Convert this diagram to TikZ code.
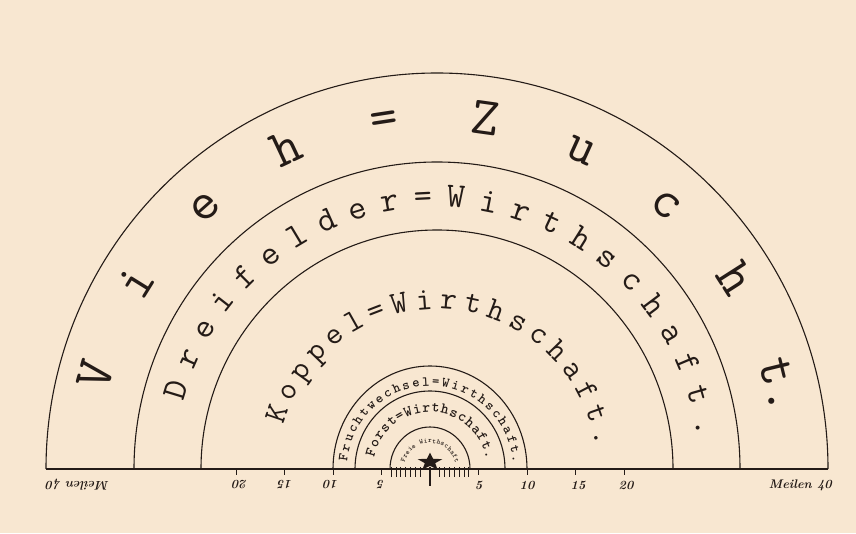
\documentclass[tikz,border=0pt]{standalone}
\usepackage{fontspec}
\usepackage{tikz}
\usetikzlibrary{
  decorations.text,shapes.geometric,positioning,calc
}
\newcommand\ringfont{\ttfamily}
\definecolor{paper}{RGB}{248,231,209}
\definecolor{ink}{RGB}{36,27,23}

\tikzset{
  ring/.style={ink,line width=1.1pt},
  ringtext/.style={decorate,decoration={text along path,text align=fit to path,text color=ink}},
  milelabel/.style={ink,inner sep=0pt,font=\bfseries\itshape\fontsize{12.5}{12.5}\selectfont},
  miletick/.style={ink,line width=.9pt}
}

\begin{document}
\begin{tikzpicture}[x=1pt,y=1pt]
    \fill[paper] (0,0) rectangle (856,533);
    \useasboundingbox (0,0) rectangle (856,533);

    \coordinate (O) at (430,64);
    \coordinate (M) at (437,64);

    % the three big rings
    \draw[ring] ($(M)+(-391,0)$) arc[start angle=180,end angle=0,x radius=391pt,y radius=396pt];
    \draw[ring] ($(M)+(-303,0)$) arc[start angle=180,end angle=0,x radius=303pt,y radius=307pt];
    \draw[ring] ($(M)+(-236,0)$) arc[start angle=180,end angle=0,x radius=236pt,y radius=239pt];

    % the three small rings
    \draw[ring] ($(O)+(-97,0)$) arc[start angle=180,end angle=0,x radius=97pt,y radius=103pt];
    \draw[ring] ($(O)+(-75,0)$) arc[start angle=180,end angle=0,x radius=75pt,y radius=78pt];
    \draw[ring] ($(O)+(-40,0)$) arc[start angle=180,end angle=0,x radius=40pt,y radius=42pt];

    % names of the rings
    \path[ringtext,decoration={text={|\ringfont\fontsize{54}{54}\selectfont|Vieh=Zuch{t.}}}]
      ($(M)+(167:338pt)$) arc[start angle=167,end angle=9,radius=338pt];
    \path[ringtext,decoration={text={|\ringfont\fontsize{35}{35}\selectfont|Dreifelder=Wirthschaft.}}]
      ($(M)+(165:262pt)$) arc[start angle=165,end angle=7,radius=262pt];
    \path[ringtext,decoration={text={|\ringfont\fontsize{32}{32}\selectfont|Koppel=Wirthschaft.}}]
      ($(M)+(164:160pt)$) arc[start angle=164,end angle=8,radius=160pt];
    \path[ringtext,decoration={text={|\ringfont\bfseries\fontsize{14}{14}\selectfont|Fruchtwechsel=Wirthschaft.}}]
      ($(O)+(175:83pt)$) arc[start angle=175,end angle=4,radius=83pt];
    \path[ringtext,decoration={text={|\ringfont\bfseries\fontsize{15}{15}\selectfont|Forst=Wirthschaft.}}]
      ($(O)+(168:57pt)$) arc[start angle=168,end angle=10,radius=57pt];
    \path[ringtext,decoration={text={|\ringfont\bfseries\fontsize{7}{7}\selectfont|Freie Wirthschaft}}]
      ($(O)+(166:26pt)$) arc[start angle=166,end angle=14,radius=26pt];

    % the scale
    \coordinate (west) at (46,64);
    \coordinate (east) at (828,64);
    \draw[ink,line width=2.2pt] (west) -- (east);

    \foreach \m in {5,10,15,20} {
      \draw[miletick] ($(O)+(\m*9.7,0)$) -- ++(0,-6);
      \draw[miletick] ($(O)+(-\m*9.7,0)$) -- ++(0,-6);
    }
    \foreach \k in {2,...,8} {
      \draw[miletick] ($(O)+(\k*4.85,2)$) -- ++(0,-10);
      \draw[miletick] ($(O)+(-\k*4.85,2)$) -- ++(0,-10);
    }
    \draw[ink,line width=1.2pt] ($(O)+(0,2)$) -- ++(0,-19);

    \node[milelabel] (r5) at ($(O)+(48.5,-16)$) {5};
    \node[milelabel] (r10) at ($(O)+(97,-16)$) {10};
    \node[milelabel] (r15) at ($(O)+(148,-16)$) {15};
    \node[milelabel] (r20) at ($(O)+(196,-16)$) {20};
    \node[milelabel,anchor=east] (reast) at ($(east)+(4,-16)$) {Meilen 40};

    \node[milelabel,rotate=180] (l5) at ($(O)+(-49,-16)$) {5};
    \node[milelabel,rotate=180] (l10) at ($(O)+(-99,-16)$) {10};
    \node[milelabel,rotate=180] (l15) at ($(O)+(-145,-16)$) {15};
    \node[milelabel,rotate=180] (l20) at ($(O)+(-190,-16)$) {20};
    \node[milelabel,rotate=180,anchor=east] (lwest) at ($(west)+(0,-16)$) {Meilen 40};

    % the town
    \node[star,star points=5,star point ratio=2.4,fill=ink,inner sep=0pt,minimum size=26pt,
      yscale=.72,transform shape] (stadt) at ($(O)+(0,7)$) {};
\end{tikzpicture}
\end{document}
